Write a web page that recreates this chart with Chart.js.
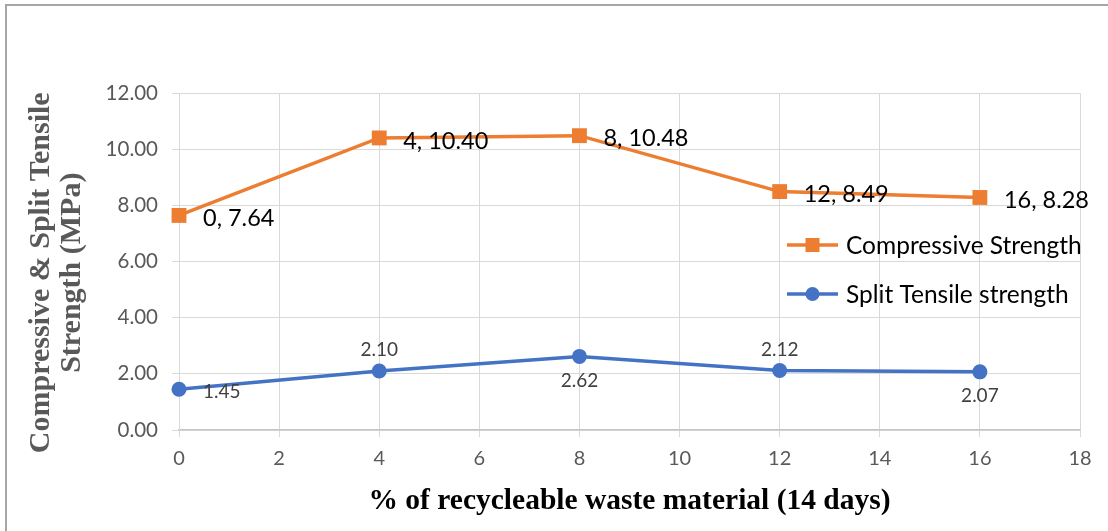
<!DOCTYPE html>
<html>
<head>
<meta charset="utf-8">
<script src="https://cdn.jsdelivr.net/npm/chart.js@4.4.0/dist/chart.umd.min.js"></script>
<style>
  html, body { margin: 0; padding: 0; background: #ffffff; overflow: hidden; }
  #frame {
    position: absolute; left: 5px; top: 4px; width: 1200px; height: 600px;
    border-top: 2px solid #a6a6a6; border-left: 2px solid #a6a6a6;
  }
  #chart { position: absolute; left: 0; top: 0; }
</style>
</head>
<body>
<div id="frame"></div>
<canvas id="chart" width="1108" height="531"></canvas>
<script>
// Recycleable waste content (%) and measured strengths at 14 days (MPa)
const pct = [0, 4, 8, 12, 16];
const compressive = [7.64, 10.40, 10.48, 8.49, 8.28];
const splitTensile = [1.45, 2.10, 2.62, 2.12, 2.07];

const seriesNames = ['Compressive Strength', 'Split Tensile strength'];
const xTitle = '% of recycleable waste material (14 days)';
const yTitle = ['Compressive & Split Tensile', 'Strength (MPa)'];

const ORANGE = '#ed7d31';
const BLUE = '#4472c4';
const SANS = 'Lato, "Open Sans", sans-serif';
const SERIF = '"Liberation Serif", "Times New Roman", serif';

// where each value label sits relative to its point
const compressivePlace = ['right', 'right', 'right', 'right', 'right'];
const tensilePlace = ['right', 'above', 'below', 'above', 'below'];

const toPoints = ys => pct.map((x, i) => ({ x, y: ys[i] }));

// Value labels next to each point
const valueLabels = {
  id: 'valueLabels',
  afterDatasetsDraw(chart) {
    const ctx = chart.ctx;
    chart.data.datasets.forEach((ds, di) => {
      const meta = chart.getDatasetMeta(di);
      meta.data.forEach((pt, i) => {
        const v = ds.data[i];
        const place = ds.labelPlace[i];
        const text = ds.labelWithX ? `${v.x}, ${v.y.toFixed(2)}` : v.y.toFixed(2);
        ctx.save();
        ctx.font = ds.labelFont;
        ctx.fillStyle = ds.labelColor;
        ctx.textBaseline = 'middle';
        let x = pt.x, y = pt.y;
        if (place === 'right') { ctx.textAlign = 'left'; x += 24; y += 3; }
        else if (place === 'above') { ctx.textAlign = 'center'; y -= 21; }
        else { ctx.textAlign = 'center'; y += 24; }
        ctx.fillText(text, x, y);
        ctx.restore();
      });
    });
  }
};

// Legend drawn inside the plot area, line-through-marker style
const innerLegend = {
  id: 'innerLegend',
  afterDraw(chart) {
    const ctx = chart.ctx;
    const area = chart.chartArea;
    const x0 = area.right - 293;
    const rows = [area.top + 152, area.top + 201];
    chart.data.datasets.forEach((ds, di) => {
      const y = rows[di];
      ctx.save();
      ctx.strokeStyle = ds.borderColor;
      ctx.lineWidth = 3.5;
      ctx.beginPath();
      ctx.moveTo(x0, y);
      ctx.lineTo(x0 + 51, y);
      ctx.stroke();
      ctx.fillStyle = ds.backgroundColor;
      const cx = x0 + 25.5;
      if (ds.pointStyle === 'rect') {
        ctx.fillRect(cx - 7, y - 7, 14, 14);
      } else {
        ctx.beginPath();
        ctx.arc(cx, y, 7, 0, Math.PI * 2);
        ctx.fill();
      }
      ctx.font = '24.5px ' + SANS;
      ctx.fillStyle = '#000000';
      ctx.textAlign = 'left';
      ctx.textBaseline = 'middle';
      ctx.fillText(ds.label, x0 + 59, y + 1);
      ctx.restore();
    });
  }
};

// trailing spaces nudge the rotated title a little below the plot-area midpoint
const yTitleLines = yTitle.map(s => s + '   ');

new Chart(document.getElementById('chart'), {
  type: 'scatter',
  data: {
    datasets: [
      {
        label: seriesNames[0],
        data: toPoints(compressive),
        showLine: true,
        clip: false,
        borderColor: ORANGE,
        backgroundColor: ORANGE,
        borderWidth: 3.5,
        pointStyle: 'rect',
        pointRadius: 10.5,
        pointBorderWidth: 0,
        tension: 0,
        labelPlace: compressivePlace,
        labelWithX: true,
        labelFont: '23.5px ' + SANS,
        labelColor: '#000000'
      },
      {
        label: seriesNames[1],
        data: toPoints(splitTensile),
        showLine: true,
        clip: false,
        borderColor: BLUE,
        backgroundColor: BLUE,
        borderWidth: 3.5,
        pointStyle: 'circle',
        pointRadius: 7.5,
        pointBorderWidth: 0,
        tension: 0,
        labelPlace: tensilePlace,
        labelWithX: false,
        labelFont: '19px ' + SANS,
        labelColor: '#404040'
      }
    ]
  },
  options: {
    responsive: false,
    animation: false,
    layout: { padding: { left: 0, top: 93, right: 28, bottom: 0 } },
    plugins: {
      legend: { display: false },
      tooltip: { enabled: false }
    },
    scales: {
      x: {
        type: 'linear',
        min: 0, max: 18,
        ticks: { stepSize: 2, color: '#595959', font: { family: SANS, size: 20 }, padding: 10 },
        grid: { color: '#d9d9d9', lineWidth: 1, drawTicks: true, tickLength: 7, tickColor: '#d9d9d9' },
        border: { color: '#c8c8c8', width: 1.5 },
        title: {
          display: true, text: xTitle, color: '#000000',
          font: { family: SERIF, size: 29.5, weight: 'bold', lineHeight: 1.02 },
          padding: { top: 0, bottom: 15 }
        },
        afterFit(scale) { scale.height = 101; }
      },
      y: {
        min: 0, max: 12,
        ticks: {
          stepSize: 2, color: '#595959', font: { family: SANS, size: 20.5 }, padding: 14,
          callback: v => v.toFixed(2)
        },
        grid: { color: '#d9d9d9', lineWidth: 1, drawTicks: true, tickLength: 7, tickColor: '#d9d9d9' },
        border: { color: '#d9d9d9', width: 1 },
        title: {
          display: true, text: yTitleLines, color: '#595959',
          font: { family: SERIF, size: 30, weight: 'bold', lineHeight: 1.02 },
          padding: { top: 26, bottom: 0 }
        },
        afterFit(scale) { scale.width = 179; }
      }
    }
  },
  plugins: [valueLabels, innerLegend]
});
</script>
</body>
</html>
